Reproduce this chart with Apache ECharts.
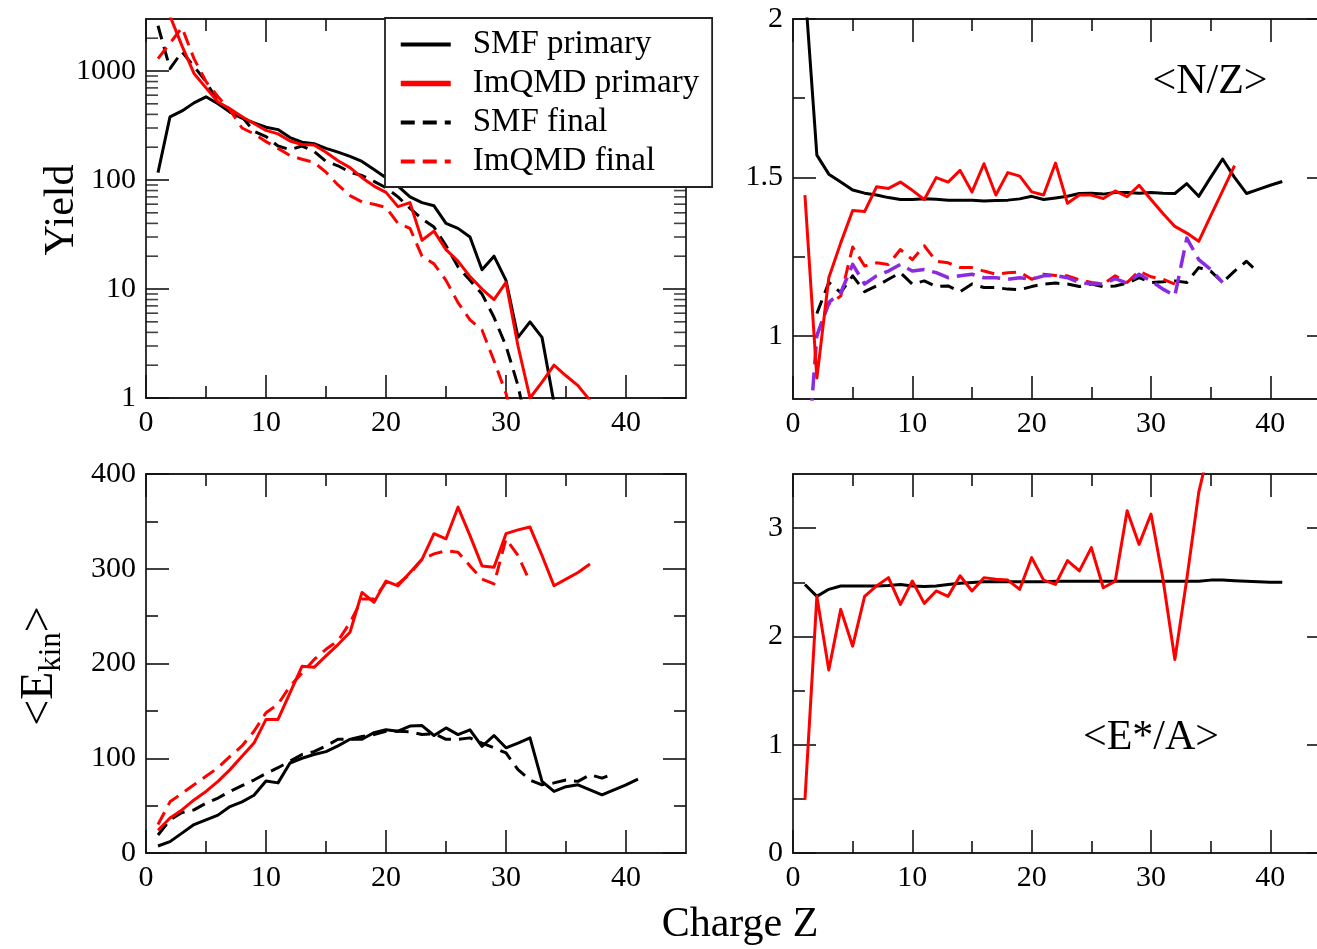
<!DOCTYPE html>
<html><head><meta charset="utf-8">
<script src="https://cdn.jsdelivr.net/npm/echarts@6/dist/echarts.min.js"></script>
<style>html,body{margin:0;padding:0;background:#fff}#c{width:1317px;height:949px}</style>
</head><body><div id="c"></div>
<script>
const FONT = '"Liberation Serif", "Times New Roman", serif';

// ---- categories (charge Z) ----
const charge = [1,2,3,4,5,6,7,8,9,10,11,12,13,14,15,16,17,18,19,20,21,22,23,24,25,26,27,28,29,30,31,32,33,34,35,36,37,38,39,40,41];

// ---- tick values ----
const xMajorTicks = [0,10,20,30,40];
const xMinorTicks = [5,15,25,35];
const yieldMinorTicks = [2,3,4,5,6,7,8,9,20,30,40,50,60,70,80,90,200,300,400,500,600,700,800,900,2000];
const nzMajorTicks = [1,1.5,2];
const nzMinorTicks = [1.25,1.75];
const ekinMajorTicks = [0,100,200,300,400];
const ekinMinorTicks = [50,150,250,350];
const eaMajorTicks = [0,1,2,3];
const eaMinorTicks = [0.5,1.5,2.5];

// ---- Yield (top-left), starting at Z=1 ----
const smfPrimaryYield  = [117,380,430,510,580,500,420,370,335,305,290,245,222,215,195,180,165,148,125,105,88,70,62,58,40,36,30,15,20,12,3.6,5,3.6,0.9];
const imqmdPrimaryYield = [8000,3200,1700,950,700,520,450,380,330,285,265,228,212,210,180,150,130,105,88,77,57,62,28,34,23,18,13,10,8,11.5,3,1,1.4,2,1.6,1.3,0.95];
const smfFinalYield    = [2600,1050,1500,1100,800,520,420,380,280,250,205,190,205,183,148,135,118,110,97,85,70,55,44,37,25,16,12,9,5.5,3,1.3,0.4];
const imqmdFinalYield  = [1300,1800,2500,1300,800,580,440,300,265,225,195,168,155,145,118,90,72,63,60,56,40,36,20,17,12,7.5,5.2,4.2,2.2,1.1,0.4];

// ---- <N/Z> (top-right) ----
const smfPrimaryNZ  = [2.1,1.57,1.51,1.485,1.46,1.45,1.444,1.436,1.43,1.43,1.432,1.431,1.428,1.428,1.428,1.425,1.427,1.428,1.432,1.44,1.43,1.435,1.44,1.449,1.45,1.447,1.452,1.452,1.45,1.452,1.45,1.449,1.48,1.44,1.5,1.558,1.5,1.449,1.462,1.475,1.487]; // Z=1..41
const imqmdPrimaryNZ = [1.444,0.866,1.183,1.293,1.395,1.392,1.47,1.465,1.485,1.459,1.43,1.499,1.485,1.522,1.454,1.543,1.444,1.515,1.504,1.454,1.444,1.545,1.418,1.444,1.444,1.433,1.457,1.439,1.475,1.43,1.386,1.345,1.324,1.298,1.378,1.457,1.537]; // Z=1..37
const smfFinalNZ    = [1.07,1.168,1.136,1.189,1.139,1.157,1.178,1.199,1.163,1.173,1.155,1.157,1.139,1.163,1.152,1.152,1.147,1.145,1.155,1.163,1.166,1.163,1.155,1.163,1.155,1.157,1.166,1.183,1.168,1.17,1.173,1.168,1.215,1.204,1.168,1.204,1.235,1.199]; // Z=2..39
const imqmdFinalNZ  = [1.0,1.1,1.125,1.28,1.22,1.23,1.225,1.272,1.24,1.284,1.235,1.23,1.215,1.215,1.204,1.194,1.199,1.201,1.178,1.194,1.19,1.189,1.176,1.168,1.163,1.189,1.168,1.204,1.186,1.178,1.163]; // Z=2..32
const altFinalNZ    = [0.5,1.0,1.105,1.136,1.225,1.163,1.189,1.204,1.225,1.204,1.209,1.199,1.183,1.189,1.194,1.183,1.183,1.178,1.183,1.178,1.189,1.19,1.183,1.168,1.163,1.163,1.18,1.166,1.194,1.173,1.147,1.126,1.308,1.24,1.209,1.168]; // Z=1..36

// ---- <E_kin> (bottom-left) ----
const smfPrimaryEkin  = [7.4,12,21,30,35,40,49,54,61,76,74,95,100,104,107,113,120,120,127,130,128.5,134,134.5,124,132,125,130,112.6,124,111,116,121.5,75.6,65,70,72,66.7,61.4,66.7,72,78]; // Z=1..41
const smfFinalEkin    = [19,35,42.7,45.5,52.6,58,65,71,77,84,90,97,104,107,113,120,120,123,125,128.5,128.5,128,125,126,120,120,121.5,116,111,105.6,88,77,72,74,77,75.6,82.6,79,84]; // Z=1..39
const imqmdPrimaryEkin = [24,37,45.5,56,65,75.6,88,102,116,141,141,169,197,196,208,220,233,275,264.5,287,282,296,310,337,331.6,365,335,303,301.5,337,341,344,314,282,289,296,305]; // Z=1..37
const imqmdFinalEkin  = [30,54,63,72,81,90,102,113,128.5,148,157,176,190,204,215,224,243,268,268,285.7,284,294.5,310,315.7,319,317.4,303,289,284,331.6,314,286]; // Z=1..32

// ---- <E*/A> (bottom-right) ----
const smfPrimaryEA  = [2.48,2.37,2.435,2.466,2.466,2.466,2.466,2.47,2.48,2.466,2.46,2.466,2.48,2.49,2.497,2.506,2.506,2.506,2.506,2.506,2.506,2.51,2.51,2.51,2.51,2.51,2.51,2.51,2.51,2.51,2.51,2.51,2.51,2.51,2.52,2.52,2.515,2.51,2.505,2.5,2.5]; // Z=1..41
const imqmdPrimaryEA = [0.49,2.37,1.69,2.25,1.91,2.37,2.466,2.543,2.296,2.512,2.305,2.42,2.37,2.56,2.42,2.543,2.528,2.52,2.435,2.728,2.52,2.48,2.7,2.605,2.82,2.45,2.51,3.16,2.85,3.13,2.53,1.787,2.53,3.33,3.8]; // Z=1..35

const legendNames = ['SMF primary','ImQMD primary','SMF final','ImQMD final'];

// ---------------- build ----------------
const grids = [
  {left:146, top:19, width:540, height:379},
  {left:793, top:19, width:537, height:380},
  {left:146, top:474, width:540, height:379},
  {left:793, top:474, width:537, height:379}
].map(g => Object.assign({show:true, borderColor:'#222', borderWidth:1.8, backgroundColor:'transparent', containLabel:false, outerBoundsMode:'none'}, g));

const xAxes = [], yAxes = [];
const tickLine = {color:'#111', width:1.6};
function labelStyle(extra) {
  return Object.assign({show:true, formatter: v => String(v), fontFamily: FONT, fontSize: 30, color:'#000', margin: 10}, extra || {});
}
function addLinAxis(list, gi, min, max, position, ticks, len, withLabels) {
  list.push({
    type:'value', gridIndex: gi, min, max, position,
    axisLine:{show:false, onZero:false}, splitLine:{show:false},
    axisTick:{show:true, inside:true, length:len, customValues:ticks, lineStyle:tickLine},
    axisLabel: withLabels ? labelStyle({customValues:ticks}) : {show:false}
  });
  return list.length - 1;
}
function addLogAxis(list, gi, min, max, position, withLabels) {
  list.push({
    type:'log', logBase:10, gridIndex: gi, min, max, position,
    axisLine:{show:false, onZero:false}, splitLine:{show:false},
    axisTick:{show:true, inside:true, length:23, lineStyle:tickLine},
    axisLabel: withLabels ? labelStyle({showMaxLabel:false}) : {show:false}
  });
  return list.length - 1;
}
const gx = [], gy = [];
for (let gi = 0; gi < 4; gi++) {
  gx[gi] = addLinAxis(xAxes, gi, 0, 45, 'bottom', xMajorTicks, 23, true);
  addLinAxis(xAxes, gi, 0, 45, 'bottom', xMinorTicks, 12, false);
  addLinAxis(xAxes, gi, 0, 45, 'top', xMajorTicks, 23, false);
  addLinAxis(xAxes, gi, 0, 45, 'top', xMinorTicks, 12, false);
}
// top-left log yield
gy[0] = addLogAxis(yAxes, 0, 1, 3000, 'left', true);
addLogAxis(yAxes, 0, 1, 3000, 'right', false);
// top-right N/Z
gy[1] = addLinAxis(yAxes, 1, 0.8, 2, 'left', nzMajorTicks, 23, true);
addLinAxis(yAxes, 1, 0.8, 2, 'left', nzMinorTicks, 12, false);
addLinAxis(yAxes, 1, 0.8, 2, 'right', nzMajorTicks, 23, false);
addLinAxis(yAxes, 1, 0.8, 2, 'right', nzMinorTicks, 12, false);
// bottom-left Ekin
gy[2] = addLinAxis(yAxes, 2, 0, 400, 'left', ekinMajorTicks, 23, true);
addLinAxis(yAxes, 2, 0, 400, 'left', ekinMinorTicks, 12, false);
addLinAxis(yAxes, 2, 0, 400, 'right', ekinMajorTicks, 23, false);
addLinAxis(yAxes, 2, 0, 400, 'right', ekinMinorTicks, 12, false);
// bottom-right E*/A
gy[3] = addLinAxis(yAxes, 3, 0, 3.5, 'left', eaMajorTicks, 23, true);
addLinAxis(yAxes, 3, 0, 3.5, 'left', eaMinorTicks, 12, false);
addLinAxis(yAxes, 3, 0, 3.5, 'right', eaMajorTicks, 23, false);
addLinAxis(yAxes, 3, 0, 3.5, 'right', eaMinorTicks, 12, false);

function pairs(values, startZ) {
  const i0 = charge.indexOf(startZ);
  return values.map((v, i) => [charge[i0 + i], v]);
}
const RED = '#ff0000', BLACK = '#000000', PURPLE = '#8a2be2';
const DASH = [14, 8];
function line(name, gi, values, startZ, color, dash, width) {
  return {
    type:'line', name, xAxisIndex: gx[gi], yAxisIndex: gy[gi],
    data: pairs(values, startZ), symbol:'none', showSymbol:false, clip:true,
    animation:false, silent:true,
    lineStyle:{color, width: width || 3, type: dash || 'solid', join:'round'},
    itemStyle:{color}
  };
}
const series = [
  line('SMF primary', 0, smfPrimaryYield, 1, BLACK),
  line('SMF final', 0, smfFinalYield, 1, BLACK, DASH),
  line('ImQMD final', 0, imqmdFinalYield, 1, RED, DASH),
  line('ImQMD primary', 0, imqmdPrimaryYield, 1, RED),

  line('SMF primary', 1, smfPrimaryNZ, 1, BLACK),
  line('SMF final', 1, smfFinalNZ, 2, BLACK, DASH),
  line('ImQMD final', 1, imqmdFinalNZ, 2, RED, DASH),
  line('ImQMD final alt', 1, altFinalNZ, 1, PURPLE, [18, 8], 3.5),
  line('ImQMD primary', 1, imqmdPrimaryNZ, 1, RED),

  line('SMF primary', 2, smfPrimaryEkin, 1, BLACK),
  line('SMF final', 2, smfFinalEkin, 1, BLACK, DASH),
  line('ImQMD final', 2, imqmdFinalEkin, 1, RED, DASH),
  line('ImQMD primary', 2, imqmdPrimaryEkin, 1, RED),

  line('SMF primary', 3, smfPrimaryEA, 1, BLACK),
  line('ImQMD primary', 3, imqmdPrimaryEA, 1, RED)
];
// minor log ticks of the Yield axis (left and right side)
function logMinor(xv, off) {
  return {
    type:'scatter', name:'yield minor ticks', xAxisIndex: gx[0], yAxisIndex: gy[0],
    data: yieldMinorTicks.map(v => [xv, v]), symbol:'rect', symbolSize:[12, 1.6], symbolOffset:[off, 0],
    itemStyle:{color:'#111'}, clip:false, silent:true, animation:false, z:3
  };
}
series.push(logMinor(0, 6), logMinor(45, -6));

const option = {
  backgroundColor:'#fff',
  animation:false,
  grid: grids,
  xAxis: xAxes,
  yAxis: yAxes,
  legend: {
    show:true, orient:'vertical', left:385, top:18, selectedMode:false,
    backgroundColor:'#fff', borderColor:'#222', borderWidth:1.8,
    padding:[10, 13, 9, 13], itemGap:6, itemWidth:50, itemHeight:14,
    itemStyle:{opacity:0},
    textStyle:{fontFamily:FONT, fontSize:33, color:'#000', padding:[0,0,0,17], lineHeight:32},
    data: [
      {name:legendNames[0], lineStyle:{width:4}},
      {name:legendNames[1], lineStyle:{width:5.5}},
      {name:legendNames[2], lineStyle:{width:4}},
      {name:legendNames[3], lineStyle:{width:4}}
    ]
  },
  graphic: [
    {type:'text', x:62, y:210, rotation:Math.PI/2, silent:true,
     style:{text:'Yield', fontFamily:FONT, fontSize:42, fill:'#000', align:'center', verticalAlign:'middle'}},
    {type:'text', x:40, y:666, rotation:Math.PI/2, silent:true,
     style:{text:'{m|<E}{s|kin}{m|>}', align:'center', verticalAlign:'middle', fill:'#000',
       rich:{ m:{fontFamily:FONT, fontSize:46, lineHeight:54, fill:'#000'},
              s:{fontFamily:FONT, fontSize:31, lineHeight:30, verticalAlign:'bottom', fill:'#000'} }}},
    {type:'text', x:740, y:925, silent:true,
     style:{text:'Charge Z', fontFamily:FONT, fontSize:42, fill:'#000', align:'center', verticalAlign:'middle'}},
    {type:'text', x:1210, y:82, silent:true,
     style:{text:'<N/Z>', fontFamily:FONT, fontSize:42, fill:'#000', align:'center', verticalAlign:'middle'}},
    {type:'text', x:1151, y:738, silent:true,
     style:{text:'<E*/A>', fontFamily:FONT, fontSize:42, fill:'#000', align:'center', verticalAlign:'middle'}}
  ],
  series
};
const chart = echarts.init(document.getElementById('c'), null, {renderer:'canvas'});
chart.setOption(option);
</script>
</body></html>
